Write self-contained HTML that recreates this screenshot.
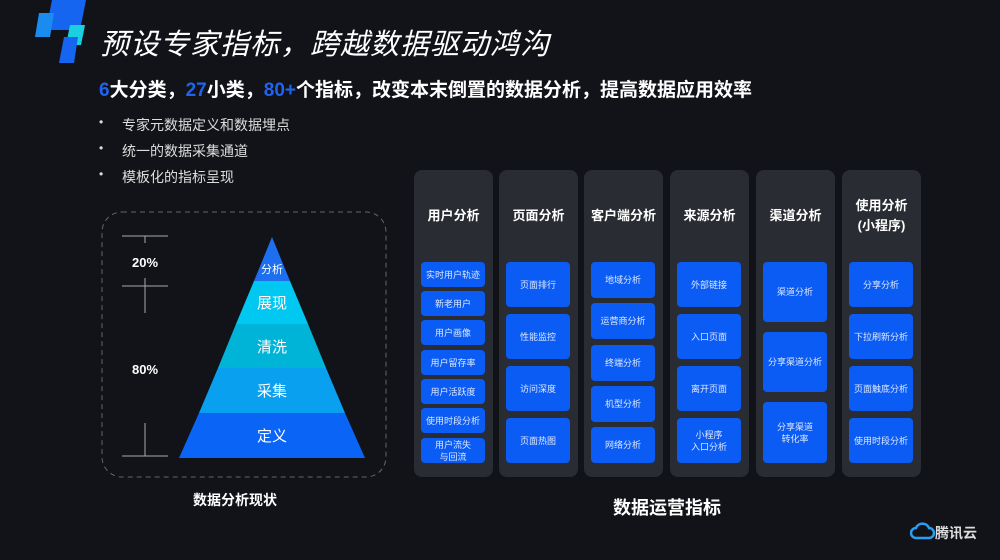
<!DOCTYPE html>
<html><head><meta charset="utf-8"><style>
*{margin:0;padding:0;box-sizing:border-box}
body{width:1000px;height:560px;background:#121318;overflow:hidden;position:relative;font-family:"Liberation Sans","Noto Sans CJK SC",sans-serif;color:#fff}
.a{position:absolute}
.col{position:absolute;top:170px;width:79px;height:307px;background:#2a2c33;border-radius:8px}
.hd{position:absolute;left:0;width:79px;text-align:center;font-weight:bold;font-size:13px;line-height:20px}
.bx{position:absolute;left:7px;width:64px;background:#0a5cf5;border-radius:4px;display:flex;align-items:center;justify-content:center;text-align:center;font-size:9px;line-height:12px;color:#dfe8ff}
.bl{position:absolute;left:103px;font-size:14px;color:#ddd}
.bl span{position:absolute;left:-4px;font-size:12px}
.bl b{font-weight:normal;margin-left:19px}
</style></head><body>
<svg class="a" style="left:0;top:0" width="100" height="70">
<polygon points="52,0 86,0 80,30 46,30" fill="#1565f0"/>
<polygon points="39,13 54,13 50,37 35,37" fill="#1a8cf0"/>
<polygon points="70,25 85,25 81,45 66,45" fill="#1ad0e0"/>
<polygon points="64,37 78,37 74,63 59,63" fill="#1565f0"/>
</svg>
<div class="a" style="left:100px;top:26px;font-size:29px;line-height:38px;font-style:italic;letter-spacing:1px">预设专家指标，跨越数据驱动鸿沟</div>
<div class="a" style="left:99px;top:79px;font-size:19px;font-weight:bold;line-height:24px"><span style="color:#1e64f0">6</span>大分类，<span style="color:#1e64f0">27</span>小类，<span style="color:#1e64f0">80+</span>个指标，改变本末倒置的数据分析，提高数据应用效率</div>
<div class="bl" style="top:115px"><span>•</span><b>专家元数据定义和数据埋点</b></div>
<div class="bl" style="top:141px"><span>•</span><b>统一的数据采集通道</b></div>
<div class="bl" style="top:167px"><span>•</span><b>模板化的指标呈现</b></div>

<svg class="a" style="left:0;top:0" width="400" height="520">
<rect x="102" y="212" width="284" height="265" rx="20" fill="none" stroke="#666" stroke-dasharray="5,4"/>
<g stroke="#aaa" stroke-width="1">
<line x1="122" y1="236" x2="168" y2="236"/><line x1="145" y1="236" x2="145" y2="243"/>
<line x1="122" y1="286" x2="168" y2="286"/><line x1="145" y1="278" x2="145" y2="313"/>
<line x1="122" y1="456" x2="168" y2="456"/><line x1="145" y1="423" x2="145" y2="456"/>
</g>
<text x="145" y="267" fill="#fff" font-size="13" font-weight="bold" text-anchor="middle">20%</text>
<text x="145" y="374" fill="#fff" font-size="13" font-weight="bold" text-anchor="middle">80%</text>
<polygon points="272,237 290,281 254,281" fill="#1e6ef0"/>
<polygon points="254,281 290,281 308,324 236,324" fill="#00c8f0"/>
<polygon points="236,324 308,324 326,368 218,368" fill="#00b4d8"/>
<polygon points="218,368 326,368 345,413 199,413" fill="#0aa0f0"/>
<polygon points="199,413 345,413 365,458 179,458" fill="#0a64f5"/>
<g fill="#fff" text-anchor="middle" font-family="Liberation Sans,Noto Sans CJK SC,sans-serif">
<text x="272" y="273" font-size="11">分析</text>
<text x="272" y="308" font-size="15">展现</text>
<text x="272" y="352" font-size="15">清洗</text>
<text x="272" y="396" font-size="15">采集</text>
<text x="272" y="441" font-size="15">定义</text>
<text x="235" y="505" font-size="14" font-weight="bold">数据分析现状</text>
</g>
</svg>

<div class="col" style="left:414px"><div class="hd" style="top:36px">用户分析</div>
<div class="bx" style="top:92px;height:25px">实时用户轨迹</div>
<div class="bx" style="top:121px;height:25px">新老用户</div>
<div class="bx" style="top:150px;height:25px">用户画像</div>
<div class="bx" style="top:180px;height:25px">用户留存率</div>
<div class="bx" style="top:209px;height:25px">用户活跃度</div>
<div class="bx" style="top:238px;height:25px">使用时段分析</div>
<div class="bx" style="top:268px;height:25px">用户流失<br>与回流</div></div>

<div class="col" style="left:499px"><div class="hd" style="top:36px">页面分析</div>
<div class="bx" style="top:92px;height:45px">页面排行</div>
<div class="bx" style="top:144px;height:45px">性能监控</div>
<div class="bx" style="top:196px;height:45px">访问深度</div>
<div class="bx" style="top:248px;height:45px">页面热图</div></div>

<div class="col" style="left:584px"><div class="hd" style="top:36px">客户端分析</div>
<div class="bx" style="top:92px;height:36px">地域分析</div>
<div class="bx" style="top:133px;height:36px">运营商分析</div>
<div class="bx" style="top:175px;height:36px">终端分析</div>
<div class="bx" style="top:216px;height:36px">机型分析</div>
<div class="bx" style="top:257px;height:36px">网络分析</div></div>

<div class="col" style="left:670px"><div class="hd" style="top:36px">来源分析</div>
<div class="bx" style="top:92px;height:45px">外部链接</div>
<div class="bx" style="top:144px;height:45px">入口页面</div>
<div class="bx" style="top:196px;height:45px">离开页面</div>
<div class="bx" style="top:248px;height:45px">小程序<br>入口分析</div></div>

<div class="col" style="left:756px"><div class="hd" style="top:36px">渠道分析</div>
<div class="bx" style="top:92px;height:60px">渠道分析</div>
<div class="bx" style="top:162px;height:60px">分享渠道分析</div>
<div class="bx" style="top:232px;height:61px">分享渠道<br>转化率</div></div>

<div class="col" style="left:842px"><div class="hd" style="top:26px">使用分析<br>(小程序)</div>
<div class="bx" style="top:92px;height:45px">分享分析</div>
<div class="bx" style="top:144px;height:45px">下拉刷新分析</div>
<div class="bx" style="top:196px;height:45px">页面触底分析</div>
<div class="bx" style="top:248px;height:45px">使用时段分析</div></div>

<div class="a" style="left:567px;top:494px;width:200px;text-align:center;font-size:18px;font-weight:bold">数据运营指标</div>

<svg class="a" style="left:910px;top:522px" width="26" height="20"><path d="M6,16 a5,5 0 0 1 0,-10 a7,7 0 0 1 13,0 a5,5 0 0 1 0,10 Z" fill="none" stroke="#2a9ef0" stroke-width="2.5"/></svg>
<div class="a" style="left:935px;top:523px;font-size:14px;color:#ddd;font-weight:bold">腾讯云</div>
</body></html>
